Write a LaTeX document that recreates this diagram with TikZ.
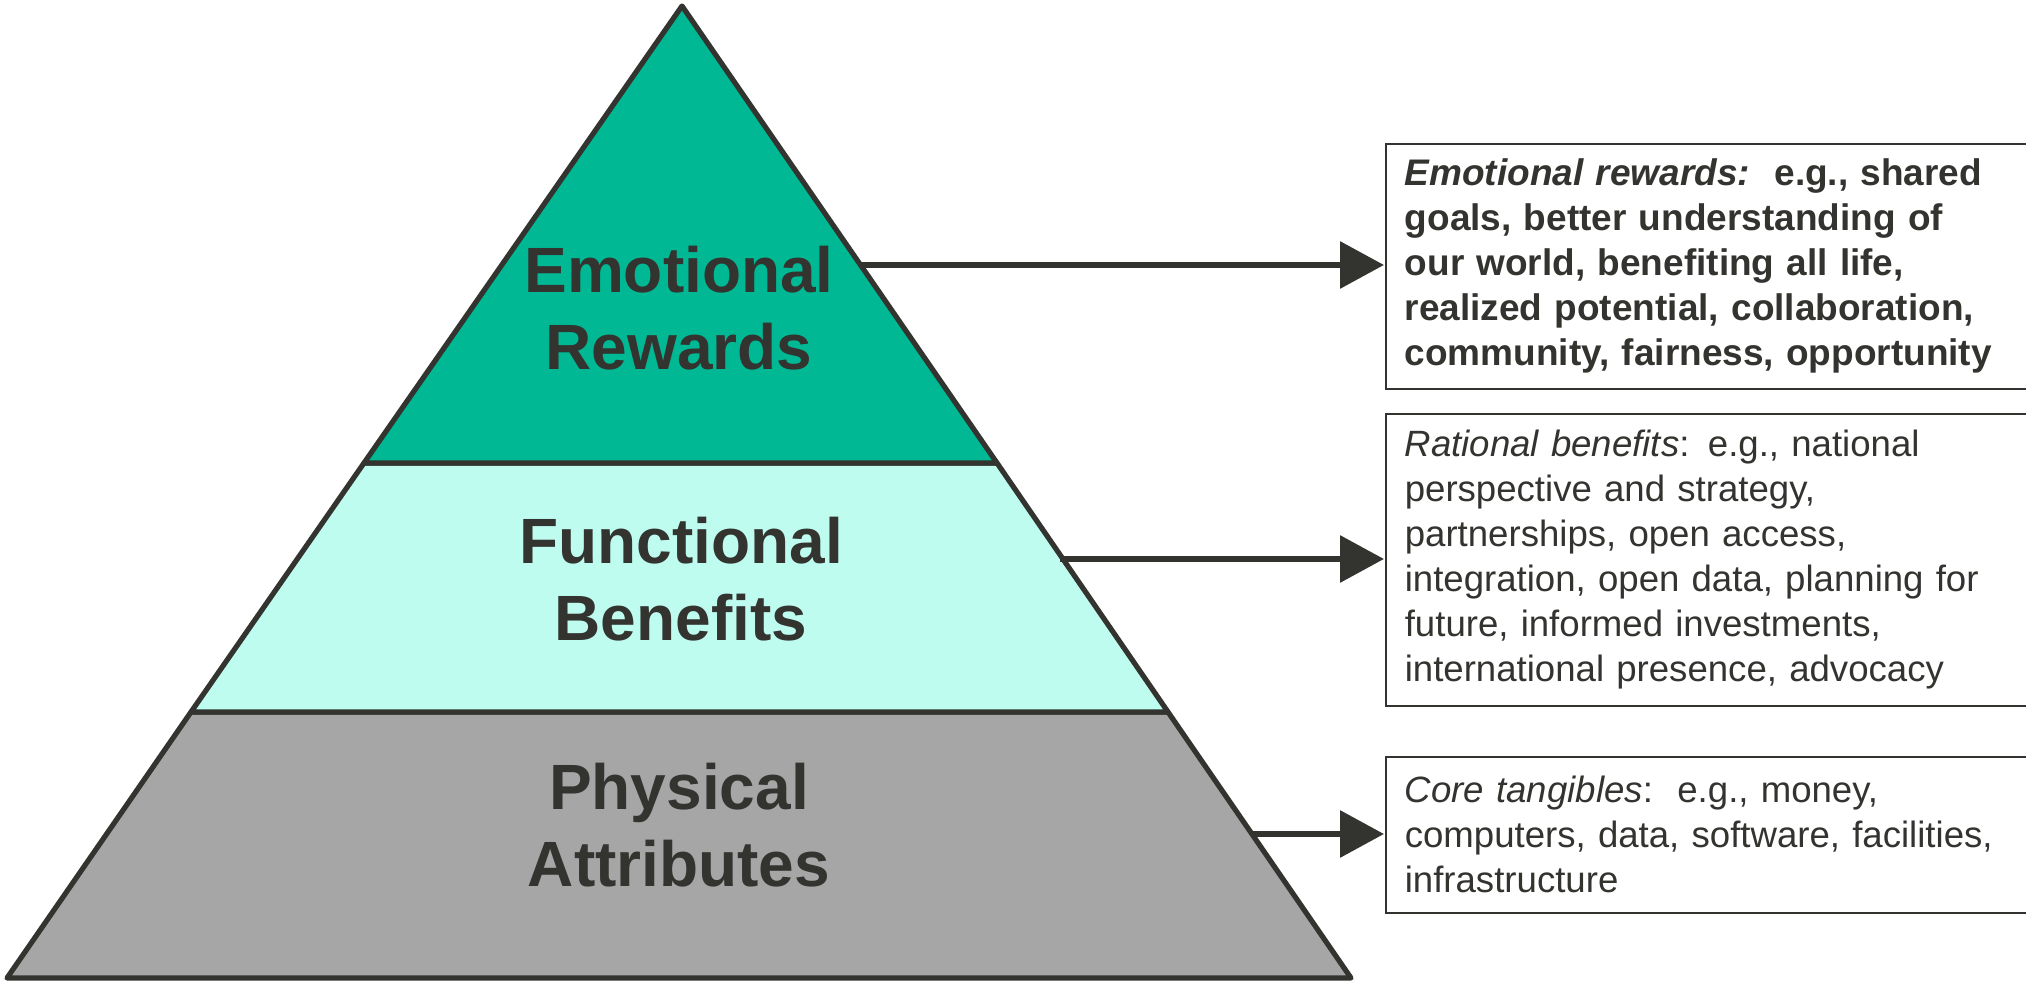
\documentclass[tikz,border=0pt]{standalone}
\usepackage{fontspec}
\setmainfont{Liberation Sans}
\usetikzlibrary{arrows.meta}
\definecolor{inkgray}{HTML}{333330}
\definecolor{rewardgreen}{HTML}{00B994}
\definecolor{benefitmint}{HTML}{BFFCF0}
\definecolor{attribgray}{HTML}{A6A6A6}
\tikzset{
  band/.style={draw=inkgray, line width=2.6pt, line join=round},
  levellabel/.style={text=inkgray, align=center, font=\bfseries\fontsize{32}{38.5}\selectfont},
  infobox/.style={draw=inkgray, line width=0.8pt, anchor=north west, align=left,
    text width=330pt, inner xsep=9.5pt, text=inkgray, font=\fontsize{18.3}{22.5}\selectfont},
  pointer/.style={-{Triangle[length=22pt,width=23pt]}, draw=inkgray, fill=inkgray, line width=3.2pt, shorten >=0.5pt}
}
\begin{document}
\begin{tikzpicture}[x=0.5pt,y=-0.5pt]
    \useasboundingbox (0,0) rectangle (2026,983);

    % pyramid corners
    \coordinate (apex) at (682,6);
    \coordinate (bl) at (7,978);
    \coordinate (br) at (1351,978);
    \coordinate (l1) at (364,463);
    \coordinate (r1) at (997,463);
    \coordinate (l2) at (191,712);
    \coordinate (r2) at (1168,712);

    \filldraw[band, fill=attribgray] (l2) -- (r2) -- (br) -- (bl) -- cycle;
    \filldraw[band, fill=benefitmint] (l1) -- (r1) -- (r2) -- (l2) -- cycle;
    \filldraw[band, fill=rewardgreen] (apex) -- (r1) -- (l1) -- cycle;

    \node[levellabel] (emo) at (679,308) {Emotional\\Rewards};
    \node[levellabel] (fun) at (681,579) {Functional\\Benefits};
    \node[levellabel] (phy) at (679,825) {Physical\\Attributes};

    % boxes on the right
    \node[infobox, minimum height=122.5pt] (emobox) at (1385,143)
        {\bfseries\fontsize{18.5}{22.5}\selectfont\itshape Emotional rewards:\upshape\ \ e.g., shared\\
         goals, better understanding of\\
         our world, benefiting all life,\\
         realized potential, collaboration,\\
         community, fairness, opportunity};
    \node[infobox, minimum height=146pt] (funbox) at (1385,413)
        {\textit{Rational benefits}: e.g., national\\
         perspective and strategy,\\
         partnerships, open access,\\
         integration, open data, planning for\\
         future, informed investments,\\
         international presence, advocacy};
    \node[infobox, minimum height=78pt] (phybox) at (1385,756)
        {\textit{Core tangibles}:\ \ e.g., money,\\
         computers, data, software, facilities,\\
         infrastructure};

    % arrows from the pyramid edge
    \coordinate (e1) at (861,265);
    \coordinate (e2) at (1060,559);
    \coordinate (e3) at (1252,834);
    \draw[pointer] (e1) -- (e1 -| emobox.west);
    \draw[pointer] (e2) -- (e2 -| funbox.west);
    \draw[pointer] (e3) -- (e3 -| phybox.west);

\end{tikzpicture}
\end{document}
